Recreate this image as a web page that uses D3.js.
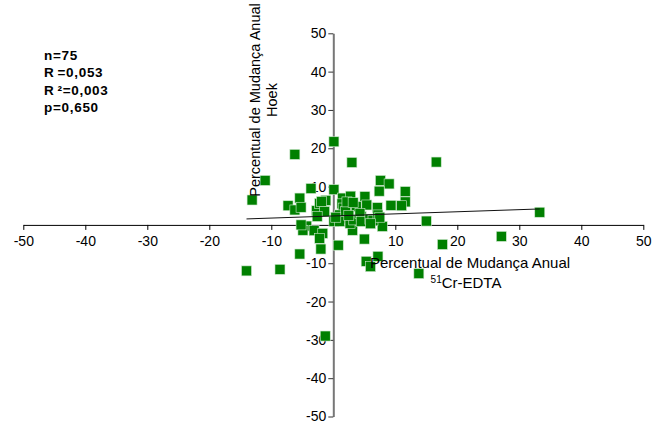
<!DOCTYPE html>
<html>
<head>
<meta charset="utf-8">
<title>Percentual de Mudança Anual</title>
<script src="https://d3js.org/d3.v7.min.js"></script>
<style>
body { margin: 0; background: #fff; }
svg { display: block; font-family: Arial, "Liberation Sans", sans-serif; }
.tick text { font-size: 14px; fill: #000; }
</style>
</head>
<body>
<svg id="chart"></svg>
<script>
// values: x = 51Cr-EDTA, y = Hoek (annual % change)
var creEdta = [0.1, -6.2, 3.0, 16.6, -11.0, -13.1, 0.1, -3.6, 7.6, 9.0,
               7.4, 11.6, 11.6, 9.3, 11.0, 7.1, 15.0, 33.3, 27.1, 17.6,
               13.8, 5.3, 6.0, 7.2, -1.3, -14.0, -8.6, -5.4, -2.0, 0.8,
               5.0, 7.9, 3.1, -7.3, -5.4, -6.2, -5.2, -2.7, -2.2, -1.2,
               -1.4, -1.9, -2.6, 0.1, -4.3, -4.9, -3.1, -1.7, -2.2, 1.5,
               2.8, 5.1, 1.4, 3.7, 5.4, 1.6, 1.0, 1.8, 2.7, 3.3,
               4.5, 4.3, 4.5, 5.9, 6.4, 7.2, 7.5, 2.0, 1.0, -5.2,
               2.2, 3.2, 0.4, 6.0, 2.5];
var hoek    = [21.7, 18.4, 16.3, 16.4, 11.6, 6.5, 9.2, 9.5, 11.6, 10.7,
               8.8, 8.7, 6.0, 5.1, 5.0, 4.5, 1.0, 3.3, -3.0, -5.1,
               -12.7, -9.5, -10.9, -8.2, -29.0, -12.0, -11.6, -7.6, -6.3, -5.3,
               -3.7, -0.4, -1.4, 5.0, 7.0, 3.9, 4.6, 3.7, 5.6, 6.4,
               3.5, 6.1, 2.2, 0.9, -0.3, -1.4, -1.5, -2.2, -3.5, 7.0,
               7.5, 7.4, 5.5, 4.8, 5.2, 4.4, 2.6, 1.6, 0.4, 1.3,
               2.2, 3.0, 0.9, 1.5, 1.2, 2.6, 2.0, 3.5, 0.9, 0.0,
               6.0, 5.8, 2.0, 0.3, 2.5];

// linear fit as drawn in the picture
var fitIntercept = 2.33;
var fitSlope = 0.055;

var tickVals = [-50, -40, -30, -20, -10, 10, 20, 30, 40, 50];
var statLines = ["n=75", "R=0,053", "R²=0,003", "p=0,650"];

var width = 652, height = 423;
var svg = d3.select("#chart").attr("width", width).attr("height", height);

var x = d3.scaleLinear().domain([-50, 50]).range([23.3, 643.3]);
var y = d3.scaleLinear().domain([-50, 50]).range([416.5, 33.3]);
var fmt = function (d) { return String(d); };  // plain hyphen, like the original

// x axis through y=0
var xAxis = svg.append("g")
    .attr("transform", "translate(0," + y(0) + ")")
    .call(d3.axisBottom(x).tickValues(tickVals).tickFormat(fmt)
        .tickSize(5).tickSizeOuter(0).tickPadding(6));
xAxis.select(".domain").attr("stroke", "#000");
xAxis.selectAll(".tick line").attr("stroke", "#000");

// y axis through x=0
var yAxis = svg.append("g")
    .attr("transform", "translate(" + x(0) + ",0)")
    .call(d3.axisLeft(y).tickValues(tickVals).tickFormat(fmt)
        .tickSize(5).tickSizeOuter(0).tickPadding(2));
yAxis.select(".domain").attr("stroke", "#777").attr("stroke-width", 2);
yAxis.selectAll(".tick line").attr("stroke", "#333");

// points
var pts = d3.range(creEdta.length).map(function (i) { return [creEdta[i], hoek[i]]; });
var sz = 10;
svg.append("g").selectAll("rect").data(pts).enter().append("rect")
    .attr("x", function (d) { return x(d[0]) - sz / 2; })
    .attr("y", function (d) { return y(d[1]) - sz / 2; })
    .attr("width", sz).attr("height", sz)
    .attr("fill", "#008000")
    .attr("stroke", "#cfe8cf")
    .attr("stroke-width", 0.6);

// regression line over the data range
var xr = d3.extent(creEdta);
svg.append("line")
    .attr("x1", x(xr[0])).attr("y1", y(fitIntercept + fitSlope * xr[0]))
    .attr("x2", x(xr[1])).attr("y2", y(fitIntercept + fitSlope * xr[1]))
    .attr("stroke", "#111").attr("stroke-width", 1);

// axis titles
var yTitle = svg.append("text")
    .attr("transform", "translate(260,100) rotate(-90)")
    .attr("text-anchor", "middle")
    .style("font-size", "14.5px");
yTitle.append("tspan").attr("x", 0).attr("dy", 0).text("Percentual de Mudança Anual");
yTitle.append("tspan").attr("x", 0).attr("dy", 17).text("Hoek");

svg.append("text")
    .attr("x", 470).attr("y", 268)
    .attr("text-anchor", "middle")
    .style("font-size", "15px")
    .text("Percentual de Mudança Anual");
var xTitle2 = svg.append("text")
    .attr("x", 466).attr("y", 288)
    .attr("text-anchor", "middle")
    .style("font-size", "15px");
xTitle2.append("tspan").attr("dy", -5).style("font-size", "10px").text("51");
xTitle2.append("tspan").attr("dy", 5).text("Cr-EDTA");

// stats block
var stats = svg.append("g").selectAll("text").data(statLines).enter().append("text")
    .attr("x", 44)
    .attr("y", function (d, i) { return 60 + i * 17.4; })
    .style("font-size", "13.5px")
    .style("font-weight", "bold")
    .style("letter-spacing", "0.7px");
stats.append("tspan").text(function (d) { return d.charAt(0); });
stats.append("tspan")
    .attr("dx", function (d) { return d.charAt(0) === "R" ? 3 : 0; })
    .text(function (d) { return d.slice(1); });
</script>
</body>
</html>
